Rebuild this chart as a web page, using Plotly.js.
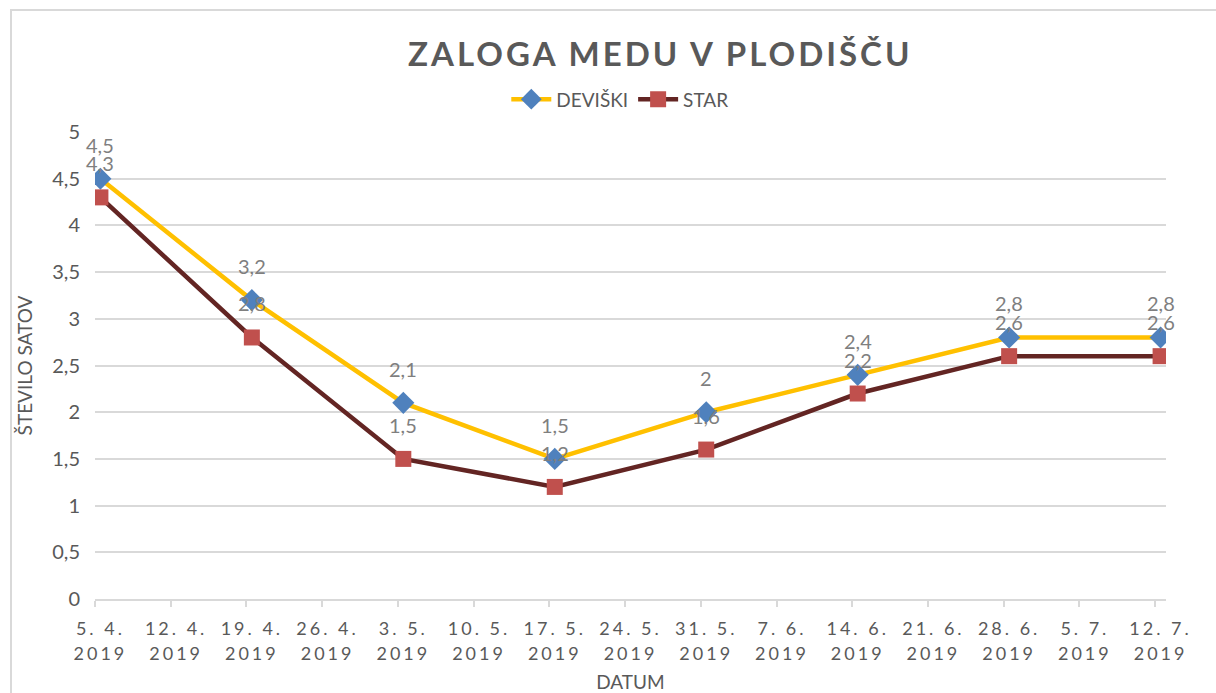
<!DOCTYPE html>
<html>
<head>
<meta charset="utf-8">
<script src="https://cdn.plot.ly/plotly-3.0.1.min.js"></script>
<style>
html,body{margin:0;padding:0;background:#fff;overflow:hidden;}
#frame{position:absolute;left:10px;top:9px;width:1400px;height:900px;border:2px solid #d9d9d9;box-sizing:border-box;pointer-events:none;z-index:5;}
#chart{width:1216px;height:693px;}
.xtick text, .x2tick text{letter-spacing:3px;}
.gtitle{letter-spacing:3px;}
</style>
</head>
<body>
<div id="frame"></div>
<div id="chart"></div>
<script>
var dates = ['2019-04-05','2019-04-19','2019-05-03','2019-05-17','2019-05-31','2019-06-14','2019-06-28','2019-07-12'];
var deviski = [4.5, 3.2, 2.1, 1.5, 2.0, 2.4, 2.8, 2.8];
var star = [4.3, 2.8, 1.5, 1.2, 1.6, 2.2, 2.6, 2.6];
var tickDates = ['2019-04-05','2019-04-12','2019-04-19','2019-04-26','2019-05-03','2019-05-10','2019-05-17','2019-05-24','2019-05-31','2019-06-07','2019-06-14','2019-06-21','2019-06-28','2019-07-05','2019-07-12'];
var tickDayMonth = ['5. 4.','12. 4.','19. 4.','26. 4.','3. 5.','10. 5.','17. 5.','24. 5.','31. 5.','7. 6.','14. 6.','21. 6.','28. 6.','5. 7.','12. 7.'];
var tickYear = tickDates.map(function(d){ return d.slice(0,4); });

function fmt(v){ return String(v).replace('.', ','); }

var font = 'Lato, "Open Sans", sans-serif';
var annotations = [];
function addLabels(vals){
  for (var i = 0; i < dates.length; i++) {
    annotations.push({x: dates[i], y: vals[i], xref: 'x', yref: 'y', text: fmt(vals[i]),
      showarrow: false, yshift: 34, font: {family: font, size: 20, color: '#7f7f7f'}});
  }
}
addLabels(deviski);
addLabels(star);

var traces = [
  {x: dates, y: deviski, name: 'DEVIŠKI', type: 'scatter', mode: 'lines+markers',
   line: {color: '#FFC000', width: 4.5},
   marker: {symbol: 'diamond', size: 17, color: '#4F81BD'}},
  {x: dates, y: star, name: 'STAR', type: 'scatter', mode: 'lines+markers',
   line: {color: '#632523', width: 4.5},
   marker: {symbol: 'square', size: 16, color: '#C0504D'}},
  // carrier for the second (year) row of the date axis; not visible
  {x: dates, y: star, xaxis: 'x2', yaxis: 'y', type: 'scatter', mode: 'lines',
   opacity: 0, showlegend: false, hoverinfo: 'skip', line: {width: 0}}
];

var xRange = ['2019-04-04 12:00', '2019-07-12 12:00'];
var layout = {
  width: 1216, height: 693,
  margin: {l: 95, r: 50, t: 132, b: 94},
  paper_bgcolor: '#ffffff', plot_bgcolor: '#ffffff',
  separators: ', ',
  font: {family: font, color: '#595959'},
  title: {text: '<b>ZALOGA MEDU V PLODIŠČU</b>', x: 0.543, xanchor: 'center', y: 0.922, yanchor: 'middle',
          font: {family: font, size: 33, color: '#595959'}},
  showlegend: true,
  legend: {orientation: 'h', x: 0.49, xanchor: 'center', y: 1.07, yanchor: 'middle',
           font: {family: font, size: 19, color: '#595959'}, itemwidth: 40, tracegroupgap: 0},
  xaxis: {type: 'date', range: xRange,
          tickmode: 'array', tickvals: tickDates, ticktext: tickDayMonth, ticks: '', ticklabelstandoff: 12,
          tickfont: {family: font, size: 18, color: '#595959'},
          showgrid: false, showline: true, linecolor: '#d9d9d9', linewidth: 2, zeroline: false,
          minor: {ticks: 'outside', tick0: '2019-04-04 12:00', dtick: 604800000, ticklen: 6, tickcolor: '#d9d9d9', tickwidth: 2, showgrid: false},
          title: {text: 'DATUM', font: {family: font, size: 19, color: '#595959'}, standoff: 42}},
  xaxis2: {type: 'date', range: xRange, overlaying: 'x', side: 'bottom', anchor: 'y',
          tickmode: 'array', tickvals: tickDates, ticktext: tickYear, ticks: '', ticklabelstandoff: 42,
          tickfont: {family: font, size: 18, color: '#595959'},
          showgrid: false, showline: false, zeroline: false},
  yaxis: {range: [0, 5], dtick: 0.5, tick0: 0, showgrid: true, gridcolor: '#d9d9d9', gridwidth: 2,
          zeroline: false, showline: false, ticks: '', ticklabelstandoff: 14,
          tickfont: {family: font, size: 20, color: '#595959'},
          title: {text: 'ŠTEVILO SATOV', font: {family: font, size: 19, color: '#595959'}, standoff: 14}},
  annotations: annotations
};

Plotly.newPlot('chart', traces, layout, {displayModeBar: false, staticPlot: true});
</script>
</body>
</html>
